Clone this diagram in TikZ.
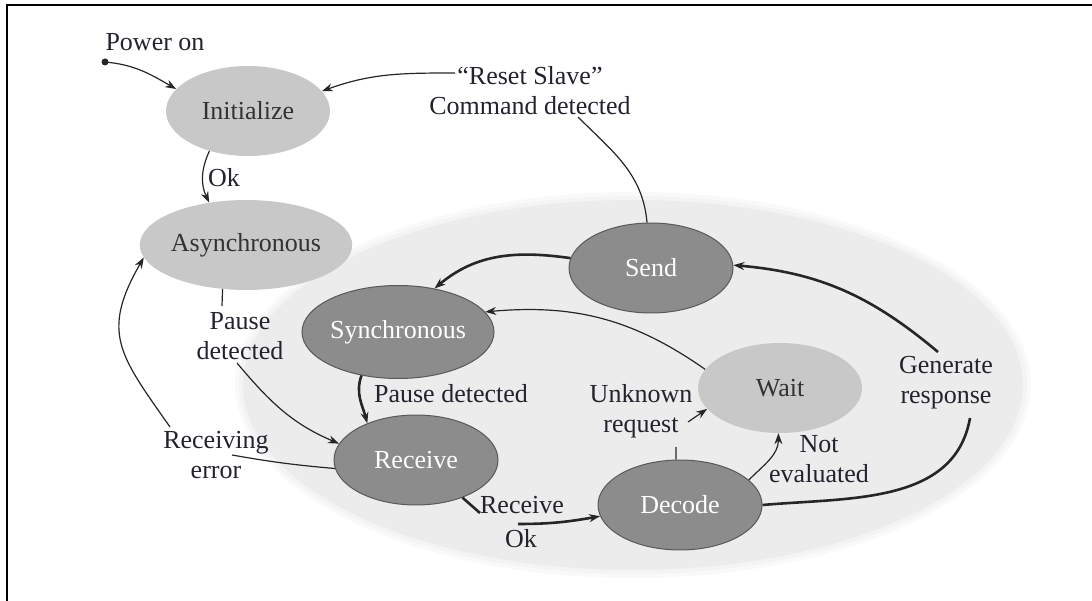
\documentclass[tikz,border=0pt]{standalone}
\usepackage{fontspec}
\setmainfont{Liberation Serif}
\usetikzlibrary{shapes.geometric,arrows.meta}
\definecolor{bgc}{RGB}{236,236,236}
\definecolor{lightn}{RGB}{200,200,200}
\definecolor{darkn}{RGB}{140,140,140}
\definecolor{txt}{RGB}{35,35,45}
\newcommand\fsz{\fontsize{26}{30}\selectfont}
\tikzset{
  stnode/.style={ellipse, minimum width=164pt, minimum height=90pt, inner sep=0pt, font=\fsz},
  lstate/.style={stnode, fill=lightn, text=black!80},
  dstate/.style={stnode, fill=darkn, draw=black!65, line width=1pt, text=white},
  lbl/.style={font=\fsz, text=txt, align=center, inner sep=1pt},
  conn/.style={line width=1.2pt, draw=black!85},
  thk/.style={line width=2.6pt, draw=black!85},
  arr/.style={-{Stealth[length=11pt,width=8pt]}},
}
\begin{document}
\begin{tikzpicture}[x=1pt,y=-1pt]
\useasboundingbox (0,0) rectangle (1092,601);
% background region
\fill[bgc!30!white] (633,385) ellipse (398pt and 193pt);
\fill[bgc!60!white] (633,385) ellipse (394pt and 189pt);
\fill[bgc] (633,385) ellipse (390pt and 185pt);
% frame
\draw[line width=2pt] (6.5,601) -- (6.5,5.5) -- (1092,5.5);

% states
\node[lstate] (init) at (248,111) {Initialize};
\node[lstate, minimum width=158pt] (async) at (246,245) {Asynchronous};
\node[dstate] (send) at (651,268) {Send};
\node[dstate, minimum width=166pt, minimum height=93pt] (sync) at (398,332) {Synchronous};
\node[dstate] (recv) at (416,460) {Receive};
\node[dstate] (dec) at (680,505) {Decode};
\node[lstate] (wait) at (780,388) {Wait};

% labels
\node[lbl] (pwr) at (155,42) {Power on};
\node[lbl] (rst) at (530,91) {“Reset Slave”\\Command detected};
\node[lbl] (ok) at (224,178) {Ok};
\node[lbl] (pd1) at (240,336) {Pause\\detected};
\node[lbl] (rerr) at (216,455) {Receiving\\error};
\node[lbl] (pd2) at (451,394) {Pause detected};
\node[lbl] (rok1) at (522,505) {Receive};
\node[lbl] (rok2) at (521,539) {Ok};
\node[lbl] (unk) at (641,411) {Unknown\\request};
\node[lbl] (nev) at (819,459) {Not\\evaluated};
\node[lbl] (gen) at (946,383) {Generate\\response};

% free ends
\coordinate (pw) at (105,62);
\coordinate (c1) at (578,117);
\coordinate (c2) at (455,73);
\coordinate (c3) at (222,306);
\coordinate (c4) at (237,363);
\coordinate (c5) at (232,455);
\coordinate (c6) at (170,427);
\coordinate (r1) at (480,513);
\coordinate (r2) at (518,524);
\coordinate (u1) at (676,447);
\coordinate (u2) at (688,422);
\coordinate (g1) at (970,418);
\coordinate (g2) at (938,352);

% connectors
\fill[black!85] (pw) circle (3.5pt);
\draw[conn,arr] (pw) to[out=-5,in=150] (init.163);
\draw[conn] (send.95) to[out=95,in=-45] (c1);
\draw[conn,arr] (c2) to[out=180,in=20] (init.15);
\draw[conn,arr] (init.226) to[out=245,in=115] (async.131);
\draw[conn] (async.242) -- (c3);
\draw[conn,arr] (c4) to[out=-50,in=157] (recv.168);
\draw[conn] (recv.186) to[out=175,in=-10] (c5);
\draw[conn,arr] (c6) to[out=125,in=240,looseness=1.3] (async.187);
\draw[thk,arr] (send.173) to[out=172,in=40] (sync.50);
\draw[conn,arr] (wait.166) to[out=145,in=5] (sync.13);
\draw[thk,arr] (sync.230) to[out=250,in=105] (recv.143);
\draw[thk] (recv.321) -- (r1);
\draw[thk,arr] (r2) to[out=0,in=190] (dec.188);
\draw[conn] (dec.95) -- (u1);
\draw[conn,arr] (u2) -- (wait.196);
\draw[conn,arr] (dec.20) to[out=45,in=-90] (wait.268);
\draw[thk] (dec.0) to[out=5,in=-100] (g1);
\draw[thk,arr] (g2) to[out=140,in=-5] (send.2);
\end{tikzpicture}
\end{document}
